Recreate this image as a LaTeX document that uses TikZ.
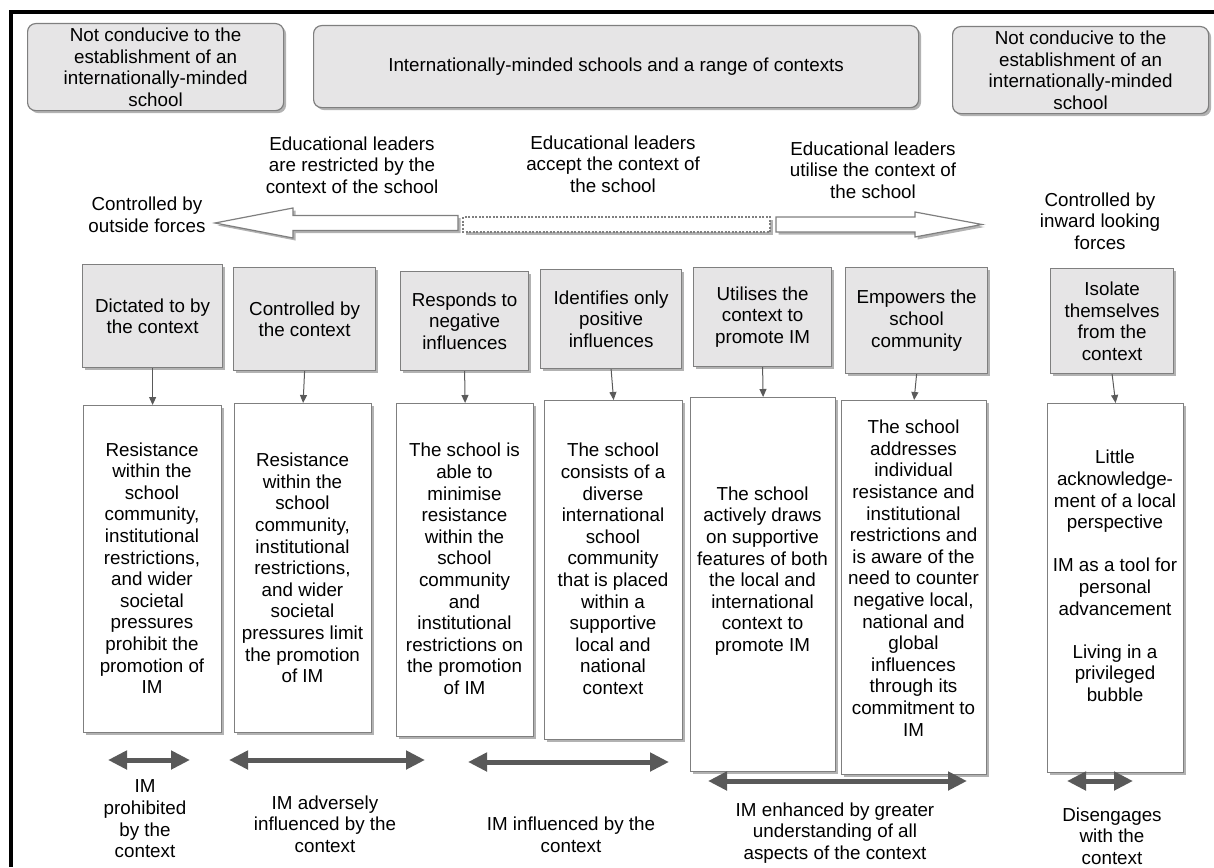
\documentclass[tikz,border=0pt]{standalone}
\usepackage{fontspec}
\setmainfont{Liberation Sans}
\usetikzlibrary{arrows.meta,shadows}
\definecolor{boxgray}{HTML}{E6E5E6}
\definecolor{edgegray}{HTML}{7F7F7F}
\definecolor{arrgray}{HTML}{595959}
\definecolor{conngray}{HTML}{5A5A5A}
\newcommand{\fs}{\fontsize{18.8pt}{21.6pt}\selectfont}
\begin{document}
\begin{tikzpicture}[x=1pt,y=-1pt,
 shad/.style={drop shadow={shadow xshift=2.5pt,shadow yshift=-2.5pt,fill=black,opacity=0.3}},
 txt/.style={font=\fs, align=center, inner sep=0pt, text=black},
 topbox/.style={shad, draw=edgegray, fill=boxgray, line width=1.2pt, rounded corners=8pt, anchor=north west, inner sep=0pt, font=\fs, align=center},
 graybox/.style={shad, draw=edgegray, fill=boxgray, line width=1.2pt, anchor=north west, inner sep=0pt, font=\fs, align=center},
 whitebox/.style={shad, draw=edgegray, fill=white, line width=1.2pt, anchor=north west, inner sep=0pt},
 conn/.style={draw=conngray, line width=1pt, -{Triangle[length=8pt,width=7pt]}},
 dbl/.style={draw=arrgray, line width=5pt, {Triangle[length=19pt,width=18pt]}-{Triangle[length=19pt,width=18pt]}},
 bigarrow/.style={shad, draw=edgegray, fill=white, line width=1.2pt, line join=miter},
]
\useasboundingbox (0,0) rectangle (1214,867);
% outer frame
\draw[line width=3.5pt, line join=miter] (1214,12) -- (11,12) -- (11,867);

% top row
\node[topbox, minimum width=256pt, minimum height=87pt] (tl) at (27,23) {Not conducive to the\\establishment of an\\internationally-minded\\school};
\node[topbox, minimum width=605pt, minimum height=82pt] (tm) at (313,25) {Internationally-minded schools and a range of contexts};
\node[topbox, minimum width=256pt, minimum height=87pt] (tr) at (952,26) {Not conducive to the\\establishment of an\\internationally-minded\\school};

% labels above big arrows
\node[txt] (lr) at (352,165) {Educational leaders\\are restricted by the\\context of the school};
\node[txt] (la) at (613,164) {Educational leaders\\accept the context of\\the school};
\node[txt] (lu) at (873,170) {Educational leaders\\utilise the context of\\the school};
\node[txt] (lo) at (147,215) {Controlled by\\outside forces};
\node[txt] (li) at (1100,221) {Controlled by\\inward looking\\forces};

% big arrows
\draw[bigarrow] (215,223) -- (293,208) -- (293,215.5) -- (458,215.5) -- (458,230.5) -- (293,230.5) -- (293,238) -- cycle;
\draw[bigarrow, dashed, dash pattern=on 2pt off 1.5pt] (463,217) rectangle (770,232);
\draw[bigarrow] (776,217) -- (915,217) -- (915,212) -- (982,224.5) -- (915,237) -- (915,232) -- (776,232) -- cycle;

% gray boxes
\node[graybox, minimum width=140pt, minimum height=103pt] (g1) at (82,264) {Dictated to by\\the context};
\node[graybox, minimum width=142pt, minimum height=103pt] (g2) at (233,267) {Controlled by\\the context};
\node[graybox, minimum width=128pt, minimum height=99pt] (g3) at (400,271) {Responds to\\negative\\influences};
\node[graybox, minimum width=141pt, minimum height=99pt] (g4) at (540,269) {Identifies only\\positive\\influences};
\node[graybox, minimum width=138pt, minimum height=99pt] (g5) at (693,267) {Utilises the\\context to\\promote IM};
\node[graybox, minimum width=142pt, minimum height=106pt] (g6) at (845,267) {Empowers the\\school\\community};
\node[graybox, minimum width=123pt, minimum height=105pt] (g7) at (1050,268) {Isolate\\themselves\\from the\\context};

% white boxes
\node[whitebox, minimum width=138pt, minimum height=327pt] (b1) at (83,405) {};
\node[whitebox, minimum width=137pt, minimum height=329pt] (b2) at (234,403) {};
\node[whitebox, minimum width=137pt, minimum height=333pt] (b3) at (396,403) {};
\node[whitebox, minimum width=138pt, minimum height=339pt] (b4) at (544,400) {};
\node[whitebox, minimum width=145pt, minimum height=374pt] (b5) at (690,397) {};
\node[whitebox, minimum width=145pt, minimum height=374pt] (b6) at (841,400) {};
\node[whitebox, minimum width=136pt, minimum height=369pt] (b7) at (1047,403) {};

\node[txt] (x1) at (152,568) {Resistance\\within the\\school\\community,\\institutional\\restrictions,\\and wider\\societal\\pressures\\prohibit the\\promotion of\\IM};
\node[txt] (x2) at (302.5,568) {Resistance\\within the\\school\\community,\\institutional\\restrictions,\\and wider\\societal\\pressures limit\\the promotion\\of IM};
\node[txt] (x3) at (464.5,569) {The school is\\able to\\minimise\\resistance\\within the\\school\\community\\and\\institutional\\restrictions on\\the promotion\\of IM};
\node[txt] (x4) at (613,569) {The school\\consists of a\\diverse\\international\\school\\community\\that is placed\\within a\\supportive\\local and\\national\\context};
\node[txt] (x5) at (762.5,571) {The school\\actively draws\\on supportive\\features of both\\the local and\\international\\context to\\promote IM};
\node[txt] (x6) at (913.5,578) {The school\\addresses\\individual\\resistance and\\institutional\\restrictions and\\is aware of the\\need to counter\\negative local,\\national and\\global\\influences\\through its\\commitment to\\IM};
\node[txt] (x7) at (1115,576) {Little\\acknowledge-\\ment of a local\\perspective\\[21.6pt]IM as a tool for\\personal\\advancement\\[21.6pt]Living in a\\privileged\\bubble};

% connectors
\foreach \i in {1,...,7} {\draw[conn] (g\i.south) -- (b\i.north);}

% double arrows
\coordinate (d1a) at (108,760); \coordinate (d1b) at (190,760);
\coordinate (d2a) at (229,760); \coordinate (d2b) at (425,760);
\coordinate (d3a) at (468,762); \coordinate (d3b) at (669,762);
\coordinate (d4a) at (708,781); \coordinate (d4b) at (967,781);
\coordinate (d5a) at (1067,781); \coordinate (d5b) at (1133,781);
\draw[dbl] (d1a) -- (d1b);
\draw[dbl] (d2a) -- (d2b);
\draw[dbl] (d3a) -- (d3b);
\draw[dbl] (d4a) -- (d4b);
\draw[dbl] (d5a) -- (d5b);

% bottom labels
\node[txt] (m1) at (145,819) {IM\\prohibited\\by the\\context};
\node[txt] (m2) at (325,824) {IM adversely\\influenced by the\\context};
\node[txt] (m3) at (571,835) {IM influenced by the\\context};
\node[txt] (m4) at (835,833) {IM enhanced by greater\\understanding of all\\aspects of the context};
\node[txt] (m5) at (1112,836) {Disengages\\with the\\context};
\end{tikzpicture}
\end{document}
